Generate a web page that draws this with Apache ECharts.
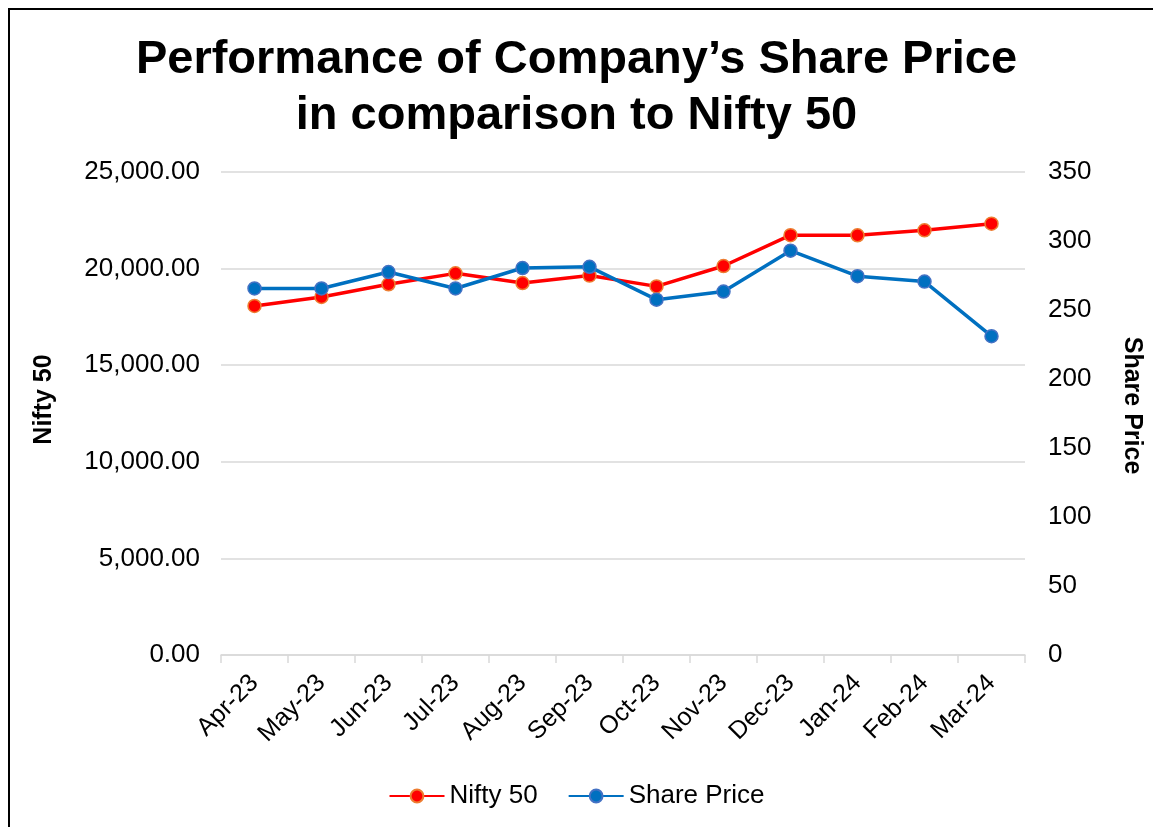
<!DOCTYPE html>
<html>
<head>
<meta charset="utf-8">
<script src="https://cdn.jsdelivr.net/npm/echarts@6/dist/echarts.min.js"></script>
<style>
  html, body { margin: 0; padding: 0; background: #fff; }
  .frame {
    position: absolute;
    left: 8px;
    top: 8px;
    width: 1160px;
    height: 840px;
    border-left: 2px solid #000;
    border-top: 2px solid #000;
  }
  #chart { position: absolute; left: 0; top: 0; width: 1153px; height: 827px; }
</style>
</head>
<body>
<div class="frame"></div>
<div id="chart"></div>
<script>
// 图表数据
const months = ['Apr-23', 'May-23', 'Jun-23', 'Jul-23', 'Aug-23', 'Sep-23',
  'Oct-23', 'Nov-23', 'Dec-23', 'Jan-24', 'Feb-24', 'Mar-24'];
const niftyValues = [18065, 18534, 19189, 19754, 19254, 19638,
  19079, 20133, 21731, 21726, 21983, 22327];
const sharePrices = [265.6, 265.6, 277.5, 265.6, 280.4, 281.3,
  257.5, 263.4, 293.0, 274.5, 270.6, 231.0];

const fontFamily = "Arial, 'Liberation Sans', sans-serif";

const chart = echarts.init(document.getElementById('chart'));

const option = {
  backgroundColor: 'transparent',
  textStyle: { fontFamily: fontFamily },
  title: {
    text: 'Performance of Company’s Share Price\nin comparison to Nifty 50',
    left: 'center',
    top: 27,
    textStyle: {
      fontFamily: fontFamily,
      fontSize: 47,
      fontWeight: 'bold',
      lineHeight: 56,
      color: '#000'
    }
  },
  legend: {
    bottom: 13,
    left: 'center',
    itemWidth: 55,
    itemHeight: 16,
    itemGap: 30,
    textStyle: { fontFamily: fontFamily, fontSize: 26, color: '#000' },
    data: ['Nifty 50', 'Share Price']
  },
  grid: {
    left: 221,
    right: 128,
    top: 172,
    bottom: 172
  },
  xAxis: {
    type: 'category',
    data: months,
    boundaryGap: true,
    axisLine: { lineStyle: { color: '#d9d9d9', width: 1.5 } },
    axisTick: { show: true, length: 8, lineStyle: { color: '#d9d9d9', width: 1.5 } },
    axisLabel: {
      rotate: 45,
      fontSize: 25,
      color: '#000',
      margin: 24
    }
  },
  yAxis: [
    {
      type: 'value',
      name: 'Nifty 50',
      nameLocation: 'middle',
      nameRotate: 90,
      nameGap: 164,
      nameTextStyle: { fontSize: 25, fontWeight: 'bold', color: '#000', padding: [0, 0, 0, 28] },
      min: 0,
      max: 25000,
      interval: 5000,
      axisLine: { show: false },
      axisTick: { show: false },
      axisLabel: {
        fontSize: 26,
        color: '#000',
        margin: 21,
        formatter: (v) => v.toLocaleString('en-US', { minimumFractionDigits: 2, maximumFractionDigits: 2 })
      },
      splitLine: { lineStyle: { color: '#d9d9d9', width: 1.5 } }
    },
    {
      type: 'value',
      name: 'Share Price',
      nameLocation: 'middle',
      nameRotate: -90,
      nameGap: 94,
      nameTextStyle: { fontSize: 25, fontWeight: 'bold', color: '#000', padding: [0, 16, 0, 0] },
      min: 0,
      max: 350,
      interval: 50,
      axisLine: { show: false },
      axisTick: { show: false },
      axisLabel: { fontSize: 26, color: '#000', margin: 23 },
      splitLine: { show: false }
    }
  ],
  series: [
    {
      name: 'Nifty 50',
      type: 'line',
      yAxisIndex: 0,
      data: niftyValues,
      symbol: 'circle',
      symbolSize: 13,
      lineStyle: { color: '#ff0000', width: 3.5 },
      itemStyle: { color: '#ff0000', borderColor: '#ed7d31', borderWidth: 1.5 },
      z: 2
    },
    {
      name: 'Share Price',
      type: 'line',
      yAxisIndex: 1,
      data: sharePrices,
      symbol: 'circle',
      symbolSize: 13,
      lineStyle: { color: '#0070c0', width: 3.5 },
      itemStyle: { color: '#0070c0', borderColor: '#4472c4', borderWidth: 1.5 },
      z: 3
    }
  ]
};

chart.setOption(option);
</script>
</body>
</html>
